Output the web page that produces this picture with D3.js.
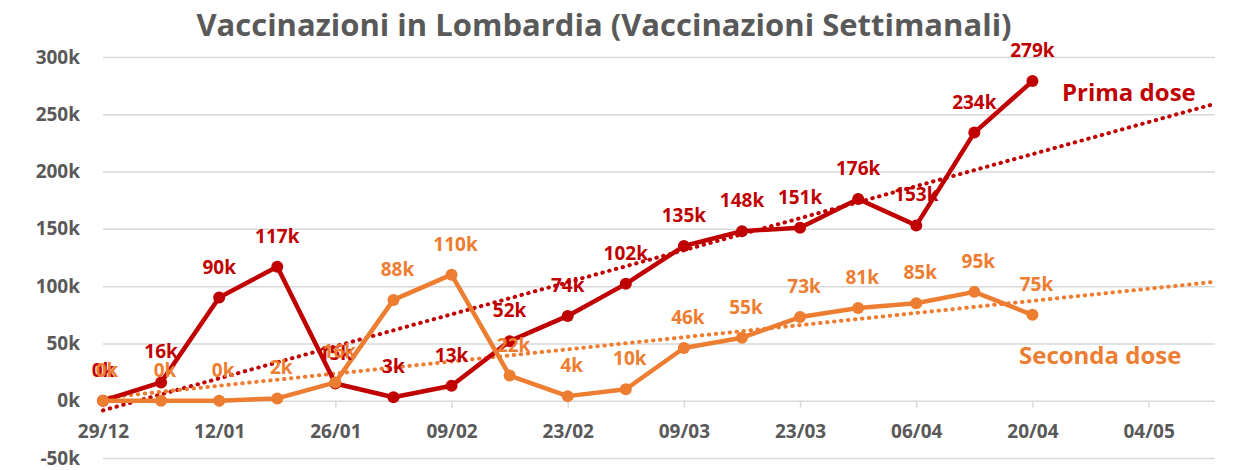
<!DOCTYPE html>
<html>
<head>
<meta charset="utf-8">
<script src="https://cdn.jsdelivr.net/npm/d3@7"></script>
<style>
  html, body { margin: 0; padding: 0; background: #fff; }
  svg text { font-family: "Open Sans", Lato, sans-serif; font-weight: bold; }
</style>
</head>
<body>
<svg id="chart" width="1240" height="470"></svg>
<script>
// Weekly vaccinations in Lombardy (week start dates, thousands of doses)
const weeks = ["29/12/2020","05/01/2021","12/01/2021","19/01/2021","26/01/2021","02/02/2021",
  "09/02/2021","16/02/2021","23/02/2021","02/03/2021","09/03/2021","16/03/2021","23/03/2021",
  "30/03/2021","06/04/2021","13/04/2021","20/04/2021"];
const primaDose   = [0, 16, 90, 117, 15, 3, 13, 52, 74, 102, 135, 148, 151, 176, 153, 234, 279];
const secondaDose = [0, 0, 0, 2, 16, 88, 110, 22, 4, 10, 46, 55, 73, 81, 85, 95, 75];
const yTicks = [-50, 0, 50, 100, 150, 200, 250, 300];
const xTickDates = ["29/12/2020","12/01/2021","26/01/2021","09/02/2021","23/02/2021","09/03/2021",
  "23/03/2021","06/04/2021","20/04/2021","04/05/2021"];
const axisEnd = "12/05/2021";

const parse = d3.timeParse("%d/%m/%Y");
const fmtTick = d3.timeFormat("%d/%m");
const dates = weeks.map(parse);

const svg = d3.select("#chart");
const x = d3.scaleTime().domain([parse(weeks[0]), parse(axisEnd)]).range([103, 1215]);
const y = d3.scaleLinear().domain([-50, 300]).range([458, 57]);

const grey = "#595959";
const red = "#C00000";
const orange = "#ED7D31";
const font = '"Open Sans", Lato, sans-serif';

// title
svg.append("text")
  .attr("x", 604).attr("y", 36)
  .attr("text-anchor", "middle")
  .attr("font-size", 31)
  .attr("fill", grey)
  .text("Vaccinazioni in Lombardia (Vaccinazioni Settimanali)");

// horizontal gridlines and value axis
const yAxis = d3.axisLeft(y).tickValues(yTicks)
  .tickSize(-(1215 - 103)).tickPadding(23)
  .tickFormat(d => d + "k");
const gy = svg.append("g").attr("transform", "translate(103,0)").call(yAxis);
gy.select(".domain").remove();
gy.selectAll(".tick line").attr("stroke", "#d9d9d9").attr("stroke-width", 1.5);
gy.selectAll(".tick text").attr("fill", grey).attr("font-size", 19)
  .attr("font-family", font).attr("font-weight", "bold");

// date axis along the zero line
const xAxis = d3.axisBottom(x).tickValues(xTickDates.map(parse))
  .tickSize(7).tickPadding(17).tickFormat(fmtTick);
const gx = svg.append("g").attr("transform", `translate(0,${y(0)})`).call(xAxis);
gx.select(".domain").remove();
gx.selectAll(".tick line").attr("stroke", "#d9d9d9").attr("stroke-width", 1.5);
gx.selectAll(".tick text").attr("fill", grey).attr("font-size", 19)
  .attr("font-family", font).attr("font-weight", "bold");

// linear trend (least squares over week index), extended to the end of the axis
function trend(values) {
  const n = values.length;
  const xs = d3.range(n);
  const mx = d3.mean(xs), my = d3.mean(values);
  const slope = d3.sum(xs, i => (i - mx) * (values[i] - my)) / d3.sum(xs, i => (i - mx) ** 2);
  const b = my - slope * mx;
  const t0 = dates[0];
  const week = 7 * 864e5;
  const tEnd = parse(axisEnd);
  const endIdx = (tEnd - t0) / week;
  return [[t0, b], [tEnd, b + slope * endIdx]];
}

const line = d3.line().x(d => x(d[0])).y(d => y(d[1]));

const seriesList = [
  { values: primaDose, color: red, dx: 0 },
  { values: secondaDose, color: orange, dx: 4 }
];

// dotted trendlines underneath the series
seriesList.forEach(s => {
  svg.append("path").datum(trend(s.values))
    .attr("d", line).attr("fill", "none")
    .attr("stroke", s.color).attr("stroke-width", 4)
    .attr("stroke-dasharray", "0.5 6.5").attr("stroke-linecap", "round");
});

// series lines with markers
seriesList.forEach(s => {
  const pts = s.values.map((v, i) => [dates[i], v]);
  svg.append("path").datum(pts)
    .attr("d", line).attr("fill", "none")
    .attr("stroke", s.color).attr("stroke-width", 4.5)
    .attr("stroke-linejoin", "round");
  svg.append("g").selectAll("circle").data(pts).join("circle")
    .attr("cx", d => x(d[0])).attr("cy", d => y(d[1])).attr("r", 6)
    .attr("fill", s.color);
});

// value labels above each point
seriesList.forEach(s => {
  svg.append("g").selectAll("text").data(s.values.map((v, i) => [dates[i], v])).join("text")
    .attr("x", d => x(d[0]) + s.dx).attr("y", d => y(d[1]) - 24)
    .attr("text-anchor", "middle")
    .attr("font-size", 19)
    .attr("fill", s.color)
    .text(d => d[1] + "k");
});

// series names
svg.append("text").attr("x", 1062).attr("y", 101).attr("font-size", 24)
  .attr("fill", red).text("Prima dose");
svg.append("text").attr("x", 1019).attr("y", 364).attr("font-size", 24)
  .attr("fill", orange).text("Seconda dose");
</script>
</body>
</html>
